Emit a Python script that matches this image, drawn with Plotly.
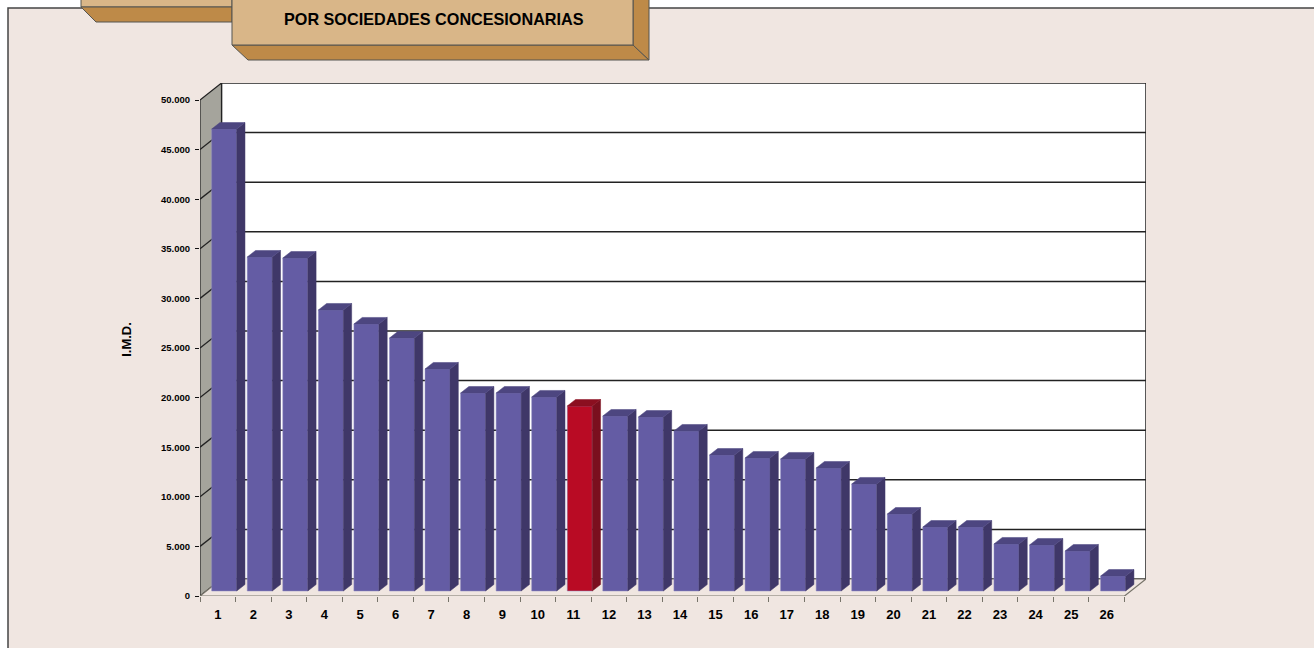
import plotly.graph_objects as go

# I.M.D. por sociedad concesionaria
categorias = list(range(1, 27))
imd = [46570, 33670, 33570, 28330, 26920, 25500, 22380, 19960, 19960, 19560,
       18650, 17640, 17540, 16130, 13710, 13410, 13310, 12400, 10790, 7760,
       6450, 6450, 4740, 4640, 4030, 1510]
destacada = 11
ticks_y = [0, 5000, 10000, 15000, 20000, 25000, 30000, 35000, 40000, 45000, 50000]
labels_y = ["0", "5.000", "10.000", "15.000", "20.000", "25.000", "30.000",
            "35.000", "40.000", "45.000", "50.000"]

BG = "#F0E6E1"
TAN = "#D9B688"
BROWN = "#BE8A48"
EDGE = "#555550"
FONT = "Liberation Sans"

# geometria en pixeles de la imagen
L, R, T, B = 200, 1146, 83, 596
PX_X = 35.56             # px por categoria
PX_Y = 496 / 50000       # px por unidad de I.M.D.

def dx(px):
    return px / PX_X

def dy(px):
    return px / PX_Y

def paper_x(px):
    return (px - L) / (R - L)

def paper_y(px):
    return (B - px) / (B - T)

def poly(points, fill, line=EDGE, width=1):
    path = "M " + " L ".join(f"{paper_x(x)},{paper_y(y)}" for x, y in points) + " Z"
    return dict(type="path", path=path, xref="paper", yref="paper", fillcolor=fill,
                line=dict(color=line, width=width), layer="below")

x0 = 0.5
x1 = 26.5
wall_x = dx(21.5)
wall_y = dy(17)

shapes = [
    # fondo y cartela del titulo
    poly([(8, 8), (1320, 8), (1320, 660), (8, 660)], BG, "#444444", 1.5),
    poly([(81, -5), (232, -5), (232, 7), (81, 7)], TAN),
    poly([(81, 7), (232, 7), (232, 22), (96, 22)], BROWN),
    poly([(232, 45), (633, 45), (649, 60), (248, 60)], BROWN),
    poly([(633, -5), (649, -5), (649, 60), (633, 45)], BROWN),
    poly([(232, -5), (633, -5), (633, 45), (232, 45)], TAN),
]

# pared lateral, fondo y suelo en coordenadas de datos
def data_poly(points, fill, line, width=1):
    path = "M " + " L ".join(f"{x},{y}" for x, y in points) + " Z"
    return dict(type="path", path=path, xref="x", yref="y", fillcolor=fill,
                line=dict(color=line, width=width), layer="below")

shapes.append(data_poly([(x0 + wall_x, wall_y), (x1 + wall_x, wall_y),
                         (x1 + wall_x, 50000 + wall_y), (x0 + wall_x, 50000 + wall_y)],
                        "white", "#222222", 1.5))
shapes.append(data_poly([(x0, 0), (x0 + wall_x, wall_y), (x0 + wall_x, 50000 + wall_y), (x0, 50000)],
                        "#A5A49C", "#222222", 1.2))
shapes.append(data_poly([(x0, 0), (x1, 0), (x1 + wall_x, wall_y), (x0 + wall_x, wall_y)],
                        BG, "#77746A", 1.2))
for t in ticks_y[1:-1]:
    shapes.append(dict(type="line", xref="x", yref="y", x0=x0, y0=t, x1=x0 + wall_x, y1=t + wall_y,
                       line=dict(color="#222222", width=1.3), layer="below"))
    shapes.append(dict(type="line", xref="x", yref="y", x0=x0 + wall_x, y0=t + wall_y,
                       x1=x1 + wall_x, y1=t + wall_y,
                       line=dict(color="#222222", width=1.5), layer="below"))

fig = go.Figure()

# barras: cara frontal con el eje, laterales y tapas con el mismo valor
shift = dx(6.4)
base = dy(5)
ancho = 25 / PX_X
prof_x = dx(8.3)
prof_y = dy(6.5)
colores = ["#B90B24" if c == destacada else "#645CA4" for c in categorias]

fig.add_trace(go.Bar(x=[c + shift for c in categorias], y=imd, base=base, width=ancho,
                     marker=dict(color=colores, line=dict(color="#8F8AC0", width=0.5)),
                     showlegend=False, hoverinfo="skip"))

for c, v in zip(categorias, imd):
    a = c + shift - ancho / 2
    b = c + shift + ancho / 2
    top = v + base
    lado = "#7A0F1E" if c == destacada else "#3F3768"
    tapa = "#8B0F20" if c == destacada else "#4D4680"
    fig.add_trace(go.Scatter(x=[b, b + prof_x, b + prof_x, b, b],
                             y=[base, base + prof_y, top + prof_y, top, base],
                             mode="lines", fill="toself", fillcolor=lado,
                             line=dict(color=lado, width=0.5),
                             showlegend=False, hoverinfo="skip"))
    fig.add_trace(go.Scatter(x=[a, a + prof_x, b + prof_x, b, a],
                             y=[top, top + prof_y, top + prof_y, top, top],
                             mode="lines", fill="toself", fillcolor=tapa,
                             line=dict(color=tapa, width=0.5),
                             showlegend=False, hoverinfo="skip"))

fig.update_layout(
    width=1314, height=648,
    margin=dict(l=L, r=1314 - R, t=T, b=648 - B, pad=0),
    paper_bgcolor="white", plot_bgcolor="rgba(0,0,0,0)",
    barmode="overlay",
    font=dict(family=FONT, color="black"),
    shapes=shapes,
    annotations=[dict(text="POR SOCIEDADES CONCESIONARIAS", xref="paper", yref="paper",
                      x=paper_x(433.5), y=paper_y(19), xanchor="center", yanchor="middle",
                      showarrow=False,
                      font=dict(family=FONT, size=16.2, weight="bold", color="black"))],
)
fig.update_xaxes(range=[x0, x1 + wall_x], showgrid=False, zeroline=False, showline=False,
                 tickmode="array", tickvals=categorias, ticktext=[str(c) for c in categorias],
                 ticks="", ticklabelstandoff=9,
                 tickfont=dict(size=13, weight="bold", family=FONT),
                 minor=dict(ticks="outside", tick0=0.5, dtick=1, ticklen=5, tickcolor="#77746A", tickwidth=1))
fig.update_yaxes(range=[0, (B - T) / PX_Y], showgrid=False, zeroline=False, showline=False,
                 tickmode="array", tickvals=ticks_y, ticktext=labels_y,
                 ticks="outside", ticklen=4, tickcolor="#111111", tickwidth=1,
                 ticklabelstandoff=3,
                 tickfont=dict(size=9.5, weight="bold", family=FONT),
                 title=dict(text="I.M.D.", standoff=26, font=dict(size=13, weight="bold", family=FONT)))

fig.write_html("out.html", config={"displayModeBar": False},
               post_script="document.body.style.margin='0';")
